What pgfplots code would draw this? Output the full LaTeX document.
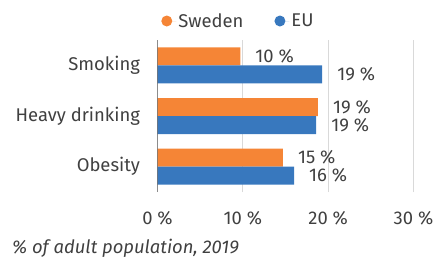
\documentclass[border=0pt]{standalone}
\usepackage{pgfplots}
\pgfplotsset{compat=1.18}
\usepackage{fontspec}
\setmainfont{Fira Sans}
\definecolor{swe}{HTML}{F58536}
\definecolor{eu}{HTML}{3878BE}
\definecolor{txt}{HTML}{404040}
\newcommand{\fs}{\fontsize{18.5}{21}\selectfont}
\begin{document}
\begin{tikzpicture}[x=1bp,y=1bp]
\path[use as bounding box] (-157.5,-66) rectangle (277.5,192);
\begin{axis}[at={(0,0)}, anchor=south west, scale only axis,
  width=256bp, height=152bp,
  xmin=0, xmax=30, ymin=-0.5, ymax=2.5,
  xbar, bar width=18bp,
  ytick={0,1,2}, yticklabels={Obesity,Heavy drinking,Smoking},
  xtick={0,10,20,30},
  /pgf/number format/assume math mode=true,
  xticklabel={\pgfmathprintnumber{\tick} \%},
  xmajorgrids, grid style={color=black!15, line width=0.8pt},
  axis line style={draw=none}, major tick length=0pt,
  xticklabel style={font=\fs, text=txt, yshift=-16bp},
  yticklabel style={font=\fs, text=txt, xshift=-14bp},
  nodes near coords={\pgfmathprintnumber[fixed,precision=0]{\pgfplotspointmeta} \%},
  nodes near coords style={anchor=west, inner sep=0pt, xshift=15bp, font=\fs, text=txt},
  legend columns=2,
  legend image code/.code={\path (0bp,0bp) -- (15bp,0bp); \fill[#1] (5.5bp,0pt) circle (5.5bp);},
  legend style={at={(0.316,1.125)}, anchor=center, draw=none, fill=none,
    font=\fs, text=txt, inner sep=0pt,
    /tikz/every even column/.append style={column sep=29bp}},
]
\addplot[fill=swe, draw=none, bar shift=9bp] coordinates {(14.7,0) (18.8,1) (9.7,2)};
\addlegendentry{Sweden}
\addplot[fill=eu, draw=none, bar shift=-9bp] coordinates {(16.0,0) (18.6,1) (19.3,2)};
\addlegendentry{EU}
\draw[black, line width=1.2pt] (axis cs:0,-0.5) -- (axis cs:0,2.5);
\end{axis}
\node[anchor=base west, font=\fs\itshape, text=txt, inner sep=0pt] at (-145.5,-61) {\% of adult population, 2019};
\end{tikzpicture}
\end{document}
